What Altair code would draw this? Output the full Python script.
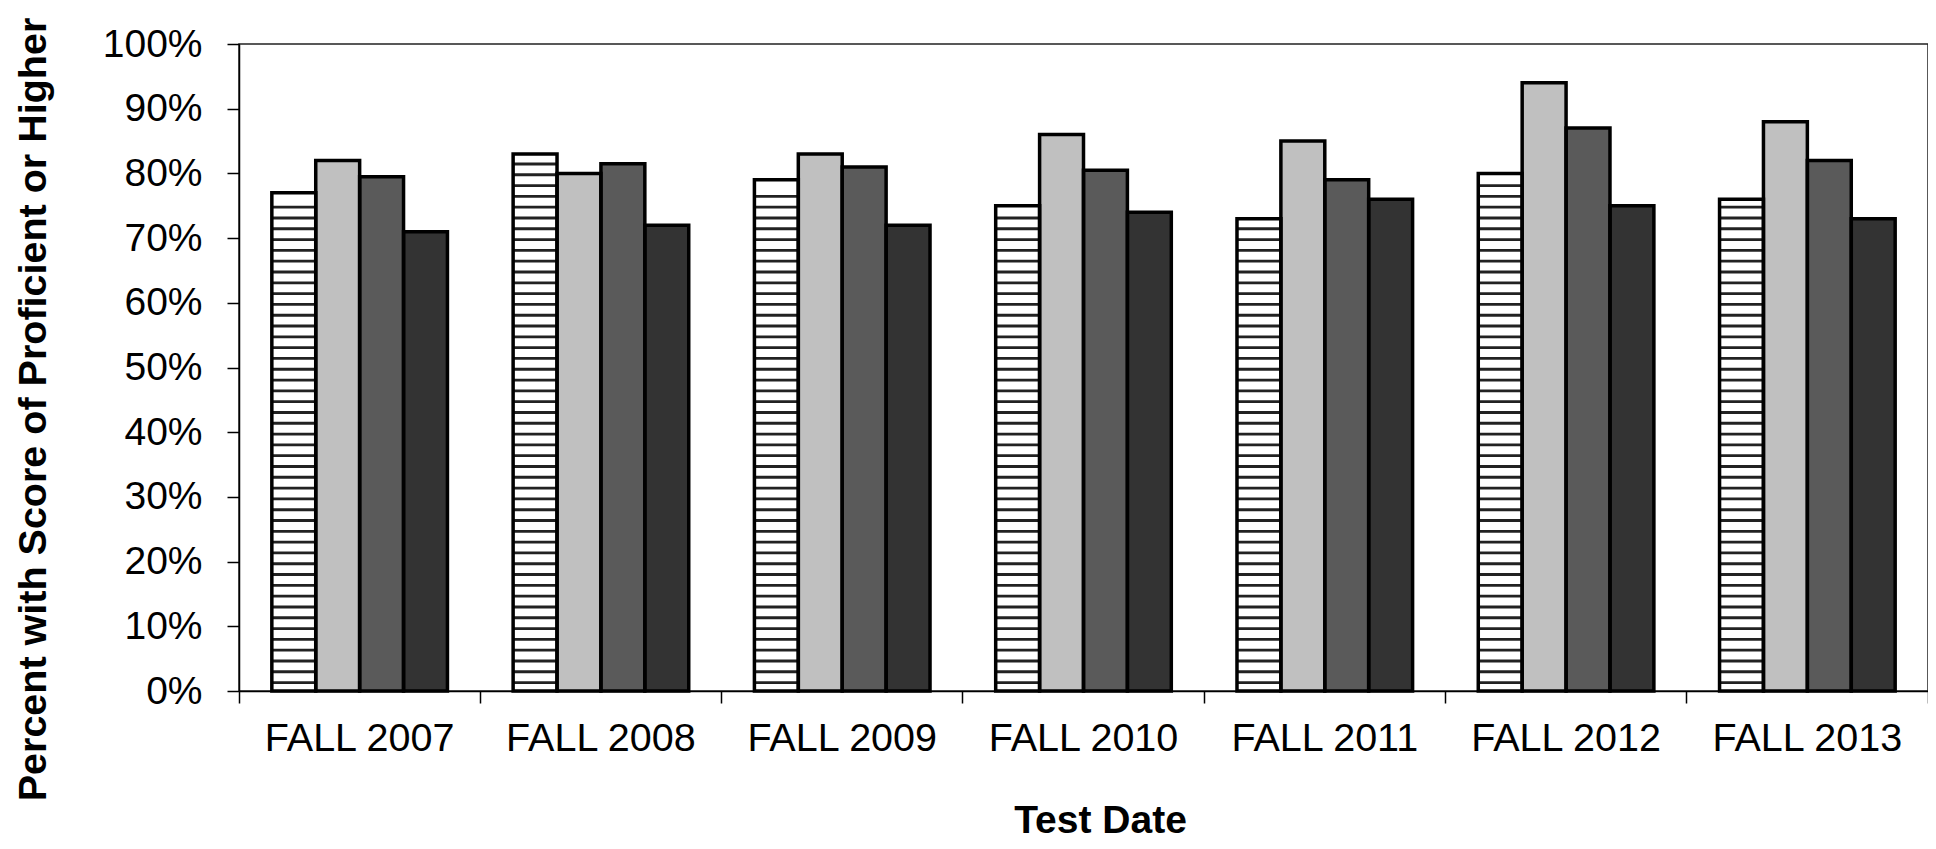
import altair as alt
import pandas as pd
import numpy as np

# ---- data ----
categories = ["FALL 2007", "FALL 2008", "FALL 2009", "FALL 2010",
              "FALL 2011", "FALL 2012", "FALL 2013"]
series_names = ["Series 1", "Series 2", "Series 3", "Series 4"]
series1 = [77, 83, 79, 75, 73, 80, 76]          # striped
series2 = [82, 80, 83, 86, 85, 94, 88]          # light grey
series3 = [79.5, 81.5, 81, 80.5, 79, 87, 82]    # dark grey
series4 = [71, 72, 72, 74, 76, 75, 73]          # darkest
y_tick_values = [0, 10, 20, 30, 40, 50, 60, 70, 80, 90, 100]

# ---- styling ----
fills = ["#FFFFFF", "#C0C0C0", "#5A5A5A", "#333333"]
FONT = "Liberation Sans, Arial, Helvetica, sans-serif"
W, H = 1689, 647

rows = []
for s, vals in zip(series_names, [series1, series2, series3, series4]):
    for c, v in zip(categories, vals):
        rows.append({"cat": c, "series": s, "value": v})
df = pd.DataFrame(rows)

# horizontal hatch texture for the striped series (pattern, not data)
stripe_rows = []
for c, v in zip(categories, series1):
    for p in np.arange(1.3, v - 0.9, 1.67):
        stripe_rows.append({"cat": c, "series": series_names[0], "y0": p - 0.22, "y1": p + 0.22})
stripes = pd.DataFrame(stripe_rows)

x_enc = alt.X("cat:N", sort=categories,
              scale=alt.Scale(paddingInner=0, paddingOuter=0),
              axis=alt.Axis(title="Test Date", labelAngle=0, bandPosition=1, tickExtra=True,
                            labelAlign="center", labelLimit=0,
                            tickSize=12, tickWidth=1.5, tickColor="black",
                            domainColor="black", domainWidth=1.5,
                            labelFont=FONT, labelFontSize=39.5, labelColor="black", labelPadding=16,
                            titleFont=FONT, titleFontSize=39, titleFontWeight="bold",
                            titleColor="black", titlePadding=44, titleX=861))
xo_enc = alt.XOffset("series:N", sort=series_names,
                     scale=alt.Scale(domain=series_names, paddingInner=0, paddingOuter=0.748))
y_scale = alt.Scale(domain=[0, 100], nice=False, zero=True)
y_axis = alt.Axis(title="Percent with Score of Proficient or Higher", values=y_tick_values,
                  labelExpr="datum.value + '%'", grid=False, tickSize=12, tickWidth=1.5,
                  tickColor="black", domainColor="black", domainWidth=1.5,
                  labelFont=FONT, labelFontSize=39, labelColor="black", labelPadding=25,
                  titleFont=FONT, titleFontSize=39.5, titleFontWeight="bold", titleColor="black",
                  titlePadding=49, titleY=365)

bars = alt.Chart(df).mark_bar(strokeWidth=0).encode(
    x=x_enc, xOffset=xo_enc,
    y=alt.Y("value:Q", scale=y_scale, axis=y_axis),
    fill=alt.Fill("series:N", scale=alt.Scale(domain=series_names, range=fills), legend=None),
)

hatch = alt.Chart(stripes).mark_bar(fill="#222222", strokeWidth=0).encode(
    x=alt.X("cat:N", sort=categories), xOffset=alt.XOffset("series:N"),
    y=alt.Y("y0:Q"), y2="y1:Q",
)

outline = alt.Chart(df).mark_bar(fillOpacity=0, stroke="black", strokeWidth=3.5).encode(
    x=alt.X("cat:N", sort=categories), xOffset=alt.XOffset("series:N"),
    y=alt.Y("value:Q"),
)

chart = alt.layer(bars, hatch, outline).properties(
    width=W, height=H,
    background="white",
    autosize=alt.AutoSizeParams(type="none"),
    padding={"left": 231, "top": 36, "right": 0, "bottom": 152},
).configure_view(stroke="#222222", strokeWidth=1.5)

chart.save("out.html", embed_options={"renderer": "svg", "actions": False})
